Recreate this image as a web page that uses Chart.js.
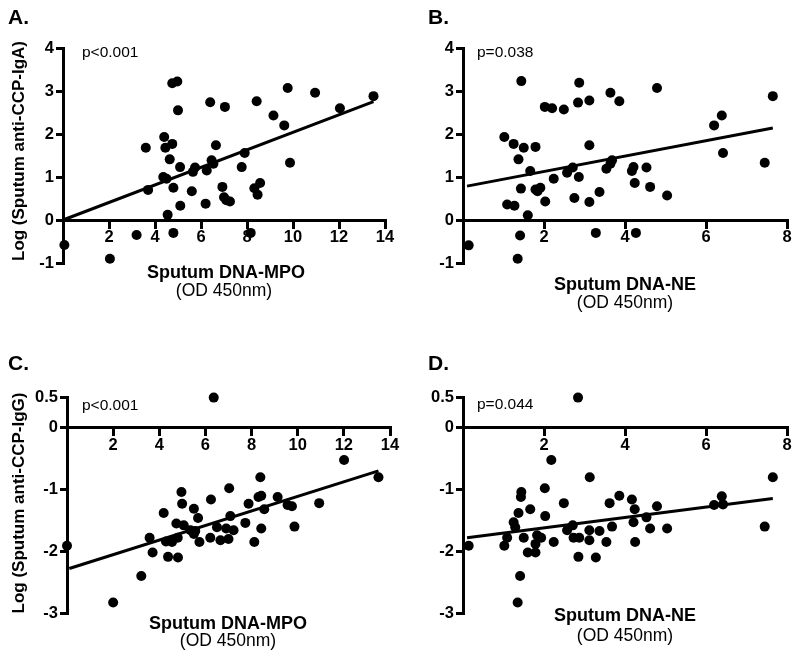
<!DOCTYPE html>
<html lang="en">
<head>
<meta charset="UTF-8">
<title>Sputum anti-CCP vs sputum DNA-MPO / DNA-NE</title>
<script src="https://cdn.jsdelivr.net/npm/chart.js"></script>
<style>
  body { margin: 0; background: #fff; font-family: "Liberation Sans", Arial, sans-serif; color: #000; }
  #wrap { position: relative; width: 800px; height: 663px; overflow: hidden; }
  canvas { position: absolute; left: 0; top: 0; }
  .txt { position: absolute; line-height: 1; white-space: nowrap; }
  .panel { font-size: 21px; font-weight: bold; }
  .pval { font-size: 15.5px; }
  .xt { font-size: 18px; font-weight: bold; transform: translateX(-50%); }
  .xu { font-size: 17.5px; transform: translateX(-50%); }
  .yt { font-size: 17px; font-weight: bold; transform: translate(-50%, -50%) rotate(-90deg); }
</style>
</head>
<body>
<div id="wrap">
  <canvas id="chartA" width="800" height="663"></canvas>
  <canvas id="chartB" width="800" height="663"></canvas>
  <canvas id="chartC" width="800" height="663"></canvas>
  <canvas id="chartD" width="800" height="663"></canvas>

  <!-- panel letters -->
  <div class="txt panel" style="left:8px; top:6px;">A.</div>
  <div class="txt panel" style="left:428px; top:6px;">B.</div>
  <div class="txt panel" style="left:8px; top:352px;">C.</div>
  <div class="txt panel" style="left:428px; top:352px;">D.</div>

  <!-- p values -->
  <div class="txt pval" id="pA" style="left:82px; top:44px;"></div>
  <div class="txt pval" id="pB" style="left:477px; top:44px;"></div>
  <div class="txt pval" id="pC" style="left:82px; top:397px;"></div>
  <div class="txt pval" id="pD" style="left:477px; top:396px;"></div>

  <!-- y titles -->
  <div class="txt yt" style="left:18px; top:151px;">Log (Sputum anti-CCP-IgA)</div>
  <div class="txt yt" style="left:18px; top:503px;">Log (Sputum anti-CCP-IgG)</div>

  <!-- x titles -->
  <div class="txt xt" style="left:226px; top:263px;">Sputum DNA-MPO</div>
  <div class="txt xu" style="left:224px; top:282px;">(OD 450nm)</div>
  <div class="txt xt" style="left:625px; top:275px;">Sputum DNA-NE</div>
  <div class="txt xu" style="left:625px; top:294px;">(OD 450nm)</div>
  <div class="txt xt" style="left:228px; top:614px;">Sputum DNA-MPO</div>
  <div class="txt xu" style="left:228px; top:632px;">(OD 450nm)</div>
  <div class="txt xt" style="left:625px; top:606px;">Sputum DNA-NE</div>
  <div class="txt xu" style="left:625px; top:627px;">(OD 450nm)</div>
</div>

<script>
  // --- data ---
  // A: DNA-MPO vs log anti-CCP-IgA
  const mpoIgaX = [0.06, 2.04, 3.2, 3.6, 3.7, 4.4, 4.45, 4.75, 4.64, 4.36, 4.5, 4.8, 4.55, 4.8, 4.75, 4.97,
    5.0, 5.09, 5.1, 5.6, 5.65, 5.74, 6.2, 6.25, 6.4, 6.46, 6.54, 6.65, 6.93, 7.04, 7.0, 7.1, 7.26,
    7.77, 7.9, 8.16, 8.32, 8.42, 8.57, 8.46, 9.15, 9.62, 9.77, 9.87, 10.96, 12.04, 13.5];
  const mpoIgaY = [-0.58, -0.9, -0.35, 1.68, 0.7, 1.93, 1.68, 1.77, 1.41, 1.0, 0.96, 0.75, 0.12, -0.3, 3.18, 3.22,
    2.55, 1.23, 0.33, 0.67, 1.12, 1.22, 0.38, 1.15, 2.74, 1.39, 1.31, 1.74, 0.77, 2.63, 0.53, 0.46, 0.43,
    1.23, 1.56, -0.3, 0.74, 2.76, 0.86, 0.59, 2.43, 2.2, 3.07, 1.33, 2.96, 2.6, 2.88];

  // B: DNA-NE vs log anti-CCP-IgA
  const neIgaX = [0.14, 1.02, 1.09, 1.27, 1.25, 1.35, 1.37, 1.41, 1.43, 1.44, 1.5, 1.6, 1.66, 1.79, 1.79, 1.84,
    1.91, 2.02, 2.03, 2.2, 2.24, 2.49, 2.57, 2.71, 2.75, 2.84, 2.87, 2.86, 3.12, 3.12, 3.12, 3.28, 3.37,
    3.54, 3.64, 3.64, 3.68, 3.86, 4.17, 4.21, 4.24, 4.27, 4.53, 4.62, 4.79, 5.04, 6.2, 6.39, 6.42, 7.45, 7.65];
  const neIgaY = [-0.59, 1.93, 0.36, 0.33, 1.77, -0.9, 1.41, -0.36, 0.73, 3.23, 1.68, 0.11, 1.14, 1.7, 0.71, 0.67,
    0.75, 2.63, 0.43, 2.6, 0.96, 2.57, 1.1, 1.22, 0.51, 2.73, 3.19, 1.0, 2.78, 1.74, 0.42, -0.3, 0.65,
    1.19, 2.96, 1.31, 1.39, 2.76, 1.14, 1.23, 0.86, -0.3, 1.22, 0.77, 3.07, 0.57, 2.2, 2.43, 1.56, 1.33, 2.88];

  // C: DNA-MPO vs log anti-CCP-IgG
  const mpoIggX = [0.0, 2.0, 3.22, 3.58, 3.71, 4.19, 4.29, 4.38, 4.55, 4.8, 4.81, 4.96, 4.99, 4.74, 5.06, 5.5,
    5.68, 5.5, 5.74, 5.35, 5.56, 6.36, 12.01, 13.5, 8.38, 7.03, 6.24, 6.21, 6.5, 6.65, 6.9, 7.0, 7.08,
    7.22, 7.73, 7.87, 8.12, 8.3, 8.42, 8.42, 8.55, 9.13, 9.56, 9.75, 9.86, 10.93];
  const mpoIggY = [-1.91, -2.83, -2.4, -1.78, -2.02, -1.38, -1.84, -2.09, -1.85, -1.78, -2.1, -1.04, -1.23, -1.55, -1.58, -1.31,
    -1.46, -1.72, -1.85, -1.66, -1.67, 0.49, -0.52, -0.8, -0.8, -0.98, -1.16, -1.78, -1.61, -1.82, -1.63, -1.8, -1.43,
    -1.66, -1.54, -1.23, -1.85, -1.12, -1.1, -1.63, -1.32, -1.12, -1.25, -1.27, -1.6, -1.22];

  // D: DNA-NE vs log anti-CCP-IgG
  const neIggX = [0.14, 1.02, 1.09, 1.25, 1.29, 1.35, 1.37, 1.41, 1.43, 1.44, 1.5, 1.6, 1.66, 1.79, 1.79, 1.83,
    1.93, 2.02, 2.03, 2.18, 2.24, 2.49, 2.57, 2.71, 2.73, 2.84, 2.87, 2.85, 3.13, 3.12, 3.12, 3.28, 3.37,
    3.54, 3.62, 3.68, 3.86, 4.17, 4.24, 4.21, 4.25, 4.53, 4.62, 4.79, 5.04, 6.2, 6.39, 6.42, 7.45, 7.65];
  const neIggY = [-1.91, -1.91, -1.78, -1.53, -1.61, -2.83, -1.38, -2.4, -1.12, -1.04, -1.78, -2.02, -1.32, -2.02, -1.88, -1.74,
    -1.78, -0.98, -1.43, -0.52, -1.85, -1.22, -1.66, -1.58, -1.78, 0.49, -1.78, -2.09, -0.8, -1.66, -1.82, -2.1, -1.67,
    -1.85, -1.22, -1.6, -1.1, -1.16, -1.32, -1.53, -1.85, -1.45, -1.63, -1.27, -1.63, -1.25, -1.11, -1.24, -1.6, -0.8];

  // regression lines (A, B, C, D)
  const fitIntercept = [0, 0.77, -2.29, -1.79];
  const fitSlope = [0.204, 0.179, 0.118, 0.0845];
  const fitFrom = [0, 0.1, 0.1, 0.1];
  const fitTo = [13.5, 7.65, 13.5, 7.65];

  const pValues = ['p<0.001', 'p=0.038', 'p<0.001', 'p=0.044'];

  // tick labels
  const ticksMpo = [0, 2, 4, 6, 8, 10, 12, 14];
  const ticksNe = [0, 2, 4, 6, 8];
  const ticksIga = [-1, 0, 1, 2, 3, 4];
  const ticksIgg = [-3, -2, -1, 0, 0.5];

  Chart.defaults.font.family = '"Liberation Sans", Arial, sans-serif';
  Chart.defaults.color = '#000';

  const Y_AXIS_W = 45;

  function makePanel(canvasId, xs, ys, xTicks, yTicks, k, area) {
    const pts = xs.map((x, i) => ({ x: x, y: ys[i] }));
    const fit = [fitFrom[k], fitTo[k]].map(x => ({ x: x, y: fitIntercept[k] + fitSlope[k] * x }));

    const axisBase = {
      type: 'linear',
      border: { display: true, color: '#000', width: 3 },
      grid: { drawOnChartArea: false, drawTicks: true, color: '#000', lineWidth: 3, tickLength: 7 },
      ticks: { font: { size: 16.5, weight: 'bold' }, color: '#000' }
    };

    return new Chart(document.getElementById(canvasId), {
      type: 'scatter',
      data: {
        datasets: [
          {
            data: fit, showLine: true, borderColor: '#000', borderWidth: 3,
            pointRadius: 0, clip: false, order: 0
          },
          {
            data: pts, backgroundColor: '#000', borderColor: '#000',
            pointRadius: 5, pointBorderWidth: 0, clip: false, order: 1
          }
        ]
      },
      options: {
        responsive: false,
        animation: false,
        layout: {
          padding: { left: area.left - Y_AXIS_W, right: 800 - area.right, top: area.top, bottom: 663 - area.bottom }
        },
        plugins: { legend: { display: false }, tooltip: { enabled: false } },
        scales: {
          x: Object.assign({}, axisBase, {
            position: { y: 0 },
            min: xTicks[0], max: xTicks[xTicks.length - 1],
            afterBuildTicks: s => { s.ticks = xTicks.map(v => ({ value: v })); },
            ticks: Object.assign({}, axisBase.ticks, {
              padding: 1,
              maxRotation: 0,
              callback: v => v === 0 ? '' : String(v)
            })
          }),
          y: Object.assign({}, axisBase, {
            position: 'left',
            min: yTicks[0], max: yTicks[yTicks.length - 1],
            afterBuildTicks: s => { s.ticks = yTicks.map(v => ({ value: v })); },
            afterFit: s => { s.width = Y_AXIS_W; },
            ticks: Object.assign({}, axisBase.ticks, {
              padding: 2,
              callback: v => String(v)
            })
          })
        }
      }
    });
  }

  makePanel('chartA', mpoIgaX, mpoIgaY, ticksMpo, ticksIga, 0, { left: 63, right: 385, top: 48, bottom: 263 });
  makePanel('chartB', neIgaX, neIgaY, ticksNe, ticksIga, 1, { left: 463, right: 787, top: 48, bottom: 263 });
  makePanel('chartC', mpoIggX, mpoIggY, ticksMpo, ticksIgg, 2, { left: 67, right: 390, top: 397, bottom: 613 });
  makePanel('chartD', neIggX, neIggY, ticksNe, ticksIgg, 3, { left: 463, right: 787, top: 397, bottom: 613 });

  ['pA', 'pB', 'pC', 'pD'].forEach((id, i) => {
    document.getElementById(id).textContent = pValues[i];
  });
</script>
</body>
</html>
